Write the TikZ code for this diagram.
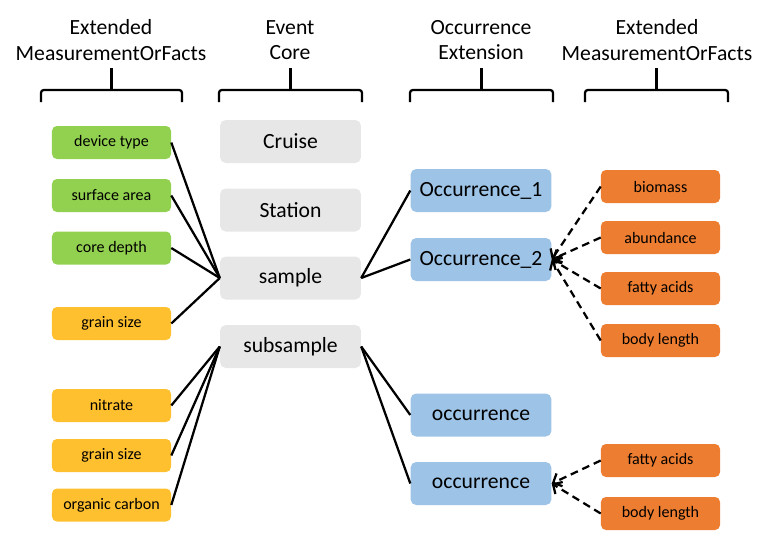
\documentclass[tikz,border=0pt]{standalone}
\usepackage{fontspec}
\setmainfont{Carlito}
\usepackage{xcolor}
\usetikzlibrary{arrows.meta}
\definecolor{mofgreen}{HTML}{92D050}
\definecolor{mofgold}{HTML}{FFC02F}
\definecolor{mofcore}{HTML}{E7E7E7}
\definecolor{mofocc}{HTML}{9DC3E6}
\definecolor{moforange}{HTML}{ED7D31}

\tikzset{
  small/.style={rounded corners=3.5pt, minimum width=2.975cm, minimum height=0.825cm,
    inner sep=0pt, font=\fontsize{11.4}{13}\selectfont},
  big/.style={rounded corners=4pt, minimum width=3.52cm, minimum height=1.075cm,
    inner sep=0pt, font=\fontsize{15.4}{18}\selectfont},
  head/.style={align=center, font=\fontsize{15.4}{18}\selectfont},
  link/.style={line width=1.6pt},
  extra/.style={line width=1.6pt, dash pattern=on 5.5pt off 3.5pt,
    -{Straight Barb[length=5pt, width=10pt, line width=1.6pt]}},
  bracket/.style={line width=1.6pt, rounded corners=2pt}
}

\begin{document}
\begin{tikzpicture}[x=0.025cm, y=-0.025cm]
  \useasboundingbox (0,0) rectangle (776,541);

  % headers
  \node[head] (hmof1) at (111,40) {Extended\\MeasurementOrFacts};
  \node[head] (hcore) at (290,40) {Event\\Core};
  \node[head] (hocc) at (481,40) {Occurrence\\Extension};
  \node[head] (hmof2) at (657,40) {Extended\\MeasurementOrFacts};

  \foreach \xa/\xb in {41/182, 219/362, 410/553, 585/728} {
    \draw[bracket] (\xa,102) -- (\xa,90) -- (\xb,90) -- (\xb,102);
    \draw[line width=1.6pt] ({(\xa+\xb)/2},90) -- ({(\xa+\xb)/2},68);
  }

  % event core
  \node[big, fill=mofcore] (cruise) at (290.5,141.5) {Cruise};
  \node[big, fill=mofcore] (station) at (290.5,210) {Station};
  \node[big, fill=mofcore] (sample) at (290.5,278) {sample};
  \node[big, fill=mofcore] (subsample) at (290.5,346.5) {subsample};

  % measurements of events
  \node[small, fill=mofgreen] (device) at (111.5,142.5) {device type};
  \node[small, fill=mofgreen] (surface) at (111.5,195.5) {surface area};
  \node[small, fill=mofgreen] (depth) at (111.5,248) {core depth};
  \node[small, fill=mofgold] (grainA) at (111.5,323.5) {grain size};
  \node[small, fill=mofgold] (nitrate) at (111.5,405.5) {nitrate};
  \node[small, fill=mofgold] (grainB) at (111.5,455.5) {grain size};
  \node[small, fill=mofgold] (carbon) at (111.5,505) {organic carbon};

  % occurrences
  \node[big, fill=mofocc] (occA) at (481,190.5) {Occurrence\_1};
  \node[big, fill=mofocc] (occB) at (481,259.5) {Occurrence\_2};
  \node[big, fill=mofocc] (occC) at (481,415) {occurrence};
  \node[big, fill=mofocc] (occD) at (481,483.5) {occurrence};

  % measurements of occurrences
  \node[small, fill=moforange] (biomass) at (660.5,186.5) {biomass};
  \node[small, fill=moforange] (abund) at (660.5,237.5) {abundance};
  \node[small, fill=moforange] (fattyA) at (660.5,288.5) {fatty acids};
  \node[small, fill=moforange] (bodyA) at (660.5,340.5) {body length};
  \node[small, fill=moforange] (fattyB) at (660.5,460.5) {fatty acids};
  \node[small, fill=moforange] (bodyB) at (660.5,513.5) {body length};

  % links
  \foreach \m in {device, surface, depth, grainA}
    \draw[link] (\m.east) -- (sample.west);
  \foreach \m in {nitrate, grainB, carbon}
    \draw[link] (\m.east) -- (subsample.west);
  \draw[link] (sample.east) -- (occA.west);
  \draw[link] (sample.east) -- (occB.west);
  \draw[link] (subsample.east) -- (occC.west);
  \draw[link] (subsample.east) -- (occD.west);

  \foreach \m in {biomass, abund, fattyA, bodyA}
    \draw[extra] (\m.west) -- (occB.east);
  \foreach \m in {fattyB, bodyB}
    \draw[extra] (\m.west) -- (occD.east);
\end{tikzpicture}
\end{document}
